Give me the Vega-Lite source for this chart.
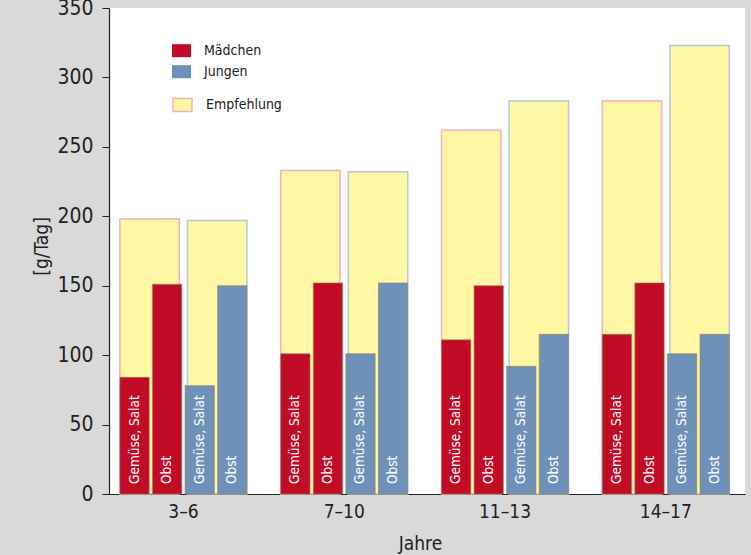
{
  "$schema": "https://vega.github.io/schema/vega-lite/v6.json",
  "width": 636,
  "height": 486,
  "autosize": {"type": "none"},
  "padding": {"left": 109, "top": 8, "right": 6, "bottom": 61},
  "background": "#d9d9d9",
  "config": {"view": {"fill": "white", "stroke": null}, "axis": {"grid": false}},
  "datasets": {
    "empf": [
      {"Jahre": "3–6", "Geschlecht": "Mädchen", "Wert": 198},
      {"Jahre": "3–6", "Geschlecht": "Jungen", "Wert": 197},
      {"Jahre": "7–10", "Geschlecht": "Mädchen", "Wert": 233},
      {"Jahre": "7–10", "Geschlecht": "Jungen", "Wert": 232},
      {"Jahre": "11–13", "Geschlecht": "Mädchen", "Wert": 262},
      {"Jahre": "11–13", "Geschlecht": "Jungen", "Wert": 283},
      {"Jahre": "14–17", "Geschlecht": "Mädchen", "Wert": 283},
      {"Jahre": "14–17", "Geschlecht": "Jungen", "Wert": 323}
    ],
    "werte": [
      {"Jahre": "3–6", "Geschlecht": "Mädchen", "Kategorie": "Gemüse, Salat", "Balken": "M1", "Wert": 84},
      {"Jahre": "3–6", "Geschlecht": "Mädchen", "Kategorie": "Obst", "Balken": "M2", "Wert": 151},
      {"Jahre": "3–6", "Geschlecht": "Jungen", "Kategorie": "Gemüse, Salat", "Balken": "J1", "Wert": 78},
      {"Jahre": "3–6", "Geschlecht": "Jungen", "Kategorie": "Obst", "Balken": "J2", "Wert": 150},
      {"Jahre": "7–10", "Geschlecht": "Mädchen", "Kategorie": "Gemüse, Salat", "Balken": "M1", "Wert": 101},
      {"Jahre": "7–10", "Geschlecht": "Mädchen", "Kategorie": "Obst", "Balken": "M2", "Wert": 152},
      {"Jahre": "7–10", "Geschlecht": "Jungen", "Kategorie": "Gemüse, Salat", "Balken": "J1", "Wert": 101},
      {"Jahre": "7–10", "Geschlecht": "Jungen", "Kategorie": "Obst", "Balken": "J2", "Wert": 152},
      {"Jahre": "11–13", "Geschlecht": "Mädchen", "Kategorie": "Gemüse, Salat", "Balken": "M1", "Wert": 111},
      {"Jahre": "11–13", "Geschlecht": "Mädchen", "Kategorie": "Obst", "Balken": "M2", "Wert": 150},
      {"Jahre": "11–13", "Geschlecht": "Jungen", "Kategorie": "Gemüse, Salat", "Balken": "J1", "Wert": 92},
      {"Jahre": "11–13", "Geschlecht": "Jungen", "Kategorie": "Obst", "Balken": "J2", "Wert": 115},
      {"Jahre": "14–17", "Geschlecht": "Mädchen", "Kategorie": "Gemüse, Salat", "Balken": "M1", "Wert": 115},
      {"Jahre": "14–17", "Geschlecht": "Mädchen", "Kategorie": "Obst", "Balken": "M2", "Wert": 152},
      {"Jahre": "14–17", "Geschlecht": "Jungen", "Kategorie": "Gemüse, Salat", "Balken": "J1", "Wert": 101},
      {"Jahre": "14–17", "Geschlecht": "Jungen", "Kategorie": "Obst", "Balken": "J2", "Wert": 115}
    ]
  },
  "encoding": {
    "x": {
      "field": "Jahre",
      "type": "nominal",
      "sort": ["3–6", "7–10", "11–13", "14–17"],
      "scale": {"paddingInner": 0.21, "paddingOuter": 0.0826, "align": 0.41},
      "axis": {
        "title": "Jahre",
        "labelAngle": 0,
        "ticks": false,
        "domainColor": "#222222",
        "domainWidth": 1.2,
        "labelFont": "DejaVu Sans Condensed, sans-serif",
        "labelFontSize": 19,
        "labelColor": "#222222",
        "labelPadding": 8,
        "labelDx": -7,
        "titleFont": "DejaVu Sans Condensed, sans-serif",
        "titleFontSize": 19,
        "titleFontWeight": "normal",
        "titleColor": "#222222",
        "titleX": 311,
        "titleY": 40,
        "titleBaseline": "top"
      }
    },
    "y": {
      "field": "Wert",
      "type": "quantitative",
      "scale": {"domain": [0, 350], "nice": false},
      "axis": {
        "title": "[g/Tag]",
        "values": [0, 50, 100, 150, 200, 250, 300, 350],
        "tickSize": 7,
        "tickColor": "#222222",
        "domainColor": "#222222",
        "domainWidth": 1.2,
        "labelFont": "DejaVu Sans Condensed, sans-serif",
        "labelFontSize": 21,
        "labelColor": "#222222",
        "labelPadding": 9,
        "labelDy": -2,
        "titleFont": "DejaVu Sans Condensed, sans-serif",
        "titleFontSize": 19,
        "titleFontWeight": "normal",
        "titleColor": "#222222",
        "titleAngle": 270,
        "titleBaseline": "middle",
        "titleAlign": "center",
        "titleX": -68,
        "titleY": 238
      }
    }
  },
  "layer": [
    {
      "data": {"name": "empf"},
      "mark": {"type": "bar", "strokeWidth": 1.5},
      "encoding": {
        "xOffset": {"field": "Geschlecht", "type": "nominal", "sort": ["Mädchen", "Jungen"], "scale": {"paddingInner": 0.12, "paddingOuter": 0}},
        "fill": {
          "datum": "Empfehlung",
          "type": "nominal",
          "scale": {"domain": ["Empfehlung"], "range": ["#fff7a3"]},
          "legend": {
            "title": null,
            "orient": "none",
            "legendX": 63,
            "legendY": 86.5,
            "padding": 0,
            "symbolType": "M-1,-0.684L1,-0.684L1,0.684L-1,0.684Z",
            "symbolSize": 361,
            "symbolStrokeColor": "#f3b0bd",
            "symbolStrokeWidth": 1.5,
            "labelFont": "DejaVu Sans Condensed, sans-serif",
            "labelFontSize": 14,
            "labelColor": "#222222",
            "labelOffset": 13
          }
        },
        "stroke": {"condition": {"test": "datum.Geschlecht === 'Mädchen'", "value": "#f3b0bd"}, "value": "#b6c7d9"}
      }
    },
    {
      "data": {"name": "werte"},
      "mark": {"type": "bar", "stroke": "#8f8358", "strokeWidth": 0.6},
      "encoding": {
        "xOffset": {"field": "Balken", "type": "nominal", "sort": ["M1", "M2", "J1", "J2"], "scale": {"type": "band", "paddingInner": 0.1, "paddingOuter": 0}},
        "fill": {
          "field": "Geschlecht",
          "type": "nominal",
          "scale": {"domain": ["Mädchen", "Jungen"], "range": ["#c20b26", "#6f90b8"]},
          "legend": {
            "title": null,
            "orient": "none",
            "legendX": 63,
            "legendY": 33.2,
            "padding": 0,
            "rowPadding": 4,
            "symbolType": "M-1,-0.684L1,-0.684L1,0.684L-1,0.684Z",
            "symbolSize": 361,
            "symbolStrokeWidth": 0,
            "labelFont": "DejaVu Sans Condensed, sans-serif",
            "labelFontSize": 14,
            "labelColor": "#222222",
            "labelOffset": 13
          }
        }
      }
    },
    {
      "data": {"name": "werte"},
      "mark": {
        "type": "text",
        "angle": 270,
        "align": "left",
        "baseline": "middle",
        "dx": 10,
        "color": "white",
        "font": "DejaVu Sans Condensed, sans-serif",
        "fontSize": 13.5
      },
      "encoding": {
        "xOffset": {"field": "Balken", "type": "nominal", "sort": ["M1", "M2", "J1", "J2"], "bandPosition": 0.5, "scale": {"type": "band", "paddingInner": 0.1, "paddingOuter": 0}},
        "y": {"datum": 0, "type": "quantitative"},
        "text": {"field": "Kategorie", "type": "nominal"}
      }
    }
  ],
  "resolve": {"scale": {"fill": "independent", "xOffset": "independent"}}
}
